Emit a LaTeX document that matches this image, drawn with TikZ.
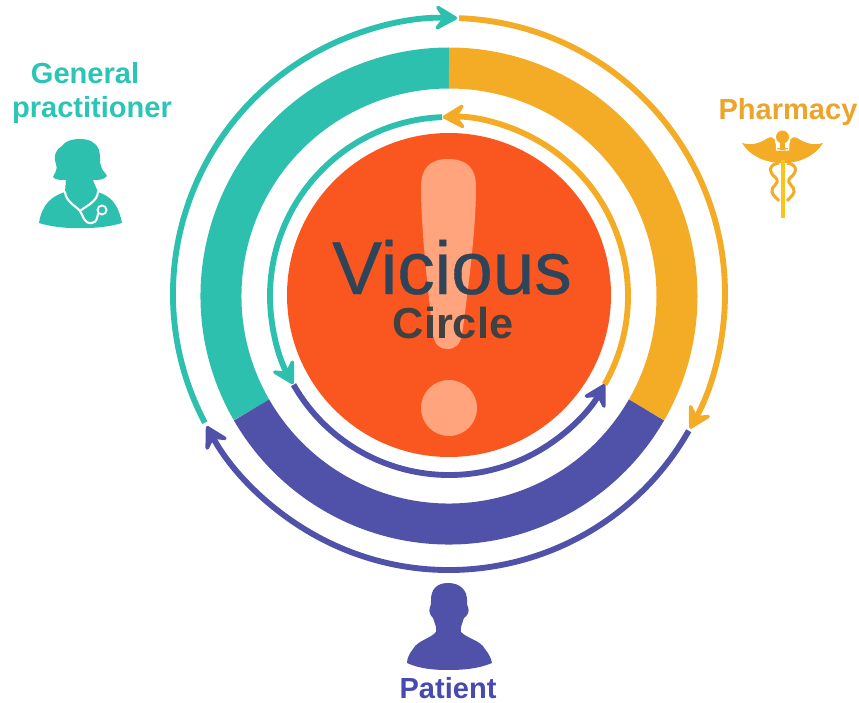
\documentclass[tikz,border=0pt]{standalone}
\usepackage{fontspec}
\setmainfont{Liberation Sans}
\newfontface\viciousface[FakeBold=0.5]{Liberation Sans}
\usetikzlibrary{arrows.meta,calc}
\definecolor{tealc}{HTML}{2EC0AE}
\definecolor{orangec}{HTML}{F4AC26}
\definecolor{purplec}{HTML}{4F52A8}
\definecolor{redc}{HTML}{FA5720}
\definecolor{peachc}{HTML}{FFA47C}
\definecolor{slatec}{HTML}{2D4459}
\definecolor{darkc}{HTML}{414141}
\begin{document}
\begin{tikzpicture}[x=0.03cm,y=-0.03cm,
    ringpart/.style={line width=1.23cm},
    loopline/.style={line width=5pt,-{Stealth[length=23pt,width=26pt,inset=9pt,round,line width=3pt]}},
    role/.style={anchor=base,font=\fontsize{24.8}{28}\selectfont\bfseries}]
    \useasboundingbox (0,0) rectangle (859,703);
    \coordinate (ringc) at (449,296);
    \coordinate (outerc) at (449,294);

    % middle ring
    \draw[ringpart,tealc] (ringc) ++(150:228) arc[start angle=150,end angle=270,radius=228];
    \draw[ringpart,orangec] (ringc) ++(270:228) arc[start angle=270,end angle=390,radius=228];
    \draw[ringpart,purplec] (ringc) ++(30:228) arc[start angle=30,end angle=150,radius=228];

    % disc and exclamation mark
    \fill[redc] (449,295) circle[radius=162];
    \fill[peachc] (421,187) .. controls (421,168) and (430,159) .. (448,159)
        .. controls (467,159) and (476,168) .. (476,187)
        .. controls (476,230) and (468,290) .. (462,335)
        .. controls (460,345) and (455,349) .. (447,349)
        .. controls (440,349) and (435,345) .. (433,335)
        .. controls (428,290) and (421,230) .. (421,187) -- cycle;
    \fill[peachc] (449,408) circle[radius=28];
    \node[anchor=base,text=slatec,font=\fontsize{63.8}{70}\viciousface] (vicious) at (452,294) {Vicious};
    \node[anchor=base,text=darkc,font=\fontsize{37}{40}\selectfont\bfseries] (circletext) at (453,338) {Circle};

    % outer arrows
    \coordinate (outerteal) at ($(outerc)+(152.2:276)$);
    \coordinate (outerorange) at ($(outerc)+(272.1:276)$);
    \coordinate (outerpurple) at ($(outerc)+(29.7:276)$);
    \draw[loopline,tealc] (outerteal) arc[start angle=152.2,end angle=271.7,radius=276];
    \draw[loopline,orangec] (outerorange) arc[start angle=272.1,end angle=389.2,radius=276];
    \draw[loopline,purplec] (outerpurple) arc[start angle=29.7,end angle=151.4,radius=276];

    % inner arrows
    \coordinate (innerteal) at ($(ringc)+(267.8:179)$);
    \coordinate (innerpurple) at ($(ringc)+(150.3:179)$);
    \coordinate (innerorange) at ($(ringc)+(29.6:179)$);
    \draw[loopline,tealc] (innerteal) arc[start angle=267.8,end angle=150.5,radius=179];
    \draw[loopline,purplec] (innerpurple) arc[start angle=150.3,end angle=29.5,radius=179];
    \draw[loopline,orangec] (innerorange) arc[start angle=29.6,end angle=-92,radius=179];

    % labels
    \node[role,text=tealc!92!cyan] (general) at (85,84) {General};
    \node[role,text=tealc!92!cyan] (practitioner) at (92,118) {practitioner};
    \node[role,text=orangec!85!brown] (pharmacy) at (788,120) {Pharmacy};
    \node[role,text=purplec!90!blue] (patient) at (448,698) {Patient};

    % general practitioner icon
    \fill[tealc] (79,184) .. controls (72,184) and (70,181) .. (66,180)
        .. controls (60,180) and (55,180) .. (53,177)
        .. controls (55,172) and (58,170) .. (56,164)
        .. controls (53,156) and (56,149) .. (62,146)
        .. controls (65,141) and (72,139) .. (80,139)
        .. controls (89,139) and (96,142) .. (99,150)
        .. controls (101,156) and (99,162) .. (101,166)
        .. controls (102,171) and (106,173) .. (107,176)
        .. controls (104,180) and (98,180) .. (94,180)
        .. controls (90,181) and (86,184) .. (79,184) -- cycle;
    \fill[tealc] (66,178) -- (92,178) -- (98,192) .. controls (110,196) and (118,203) .. (122,223)
        .. controls (100,230) and (60,230) .. (39,223)
        .. controls (42,204) and (52,196) .. (65,192) -- cycle;
    \draw[white,line width=1.8pt,line cap=round] (65,192) .. controls (66,202) and (76,206) .. (80,211)
        .. controls (84,217) and (84,224) .. (92,223)
        .. controls (97,222) and (97,218) .. (98,214);
    \draw[white,line width=1.8pt,line cap=round] (98,192) .. controls (97,202) and (86,206) .. (80,211);
    \draw[white,line width=1.6pt] (102,210) circle[radius=4.5];

    % pharmacy icon
    \fill[orangec] (742,143) .. controls (752,146) and (760,143) .. (768,138)
        .. controls (774,135) and (777,142) .. (777,148) -- (788,148)
        .. controls (788,142) and (791,135) .. (797,138)
        .. controls (805,143) and (813,146) .. (823,143)
        .. controls (815,156) and (800,163) .. (783,163)
        .. controls (765,163) and (750,156) .. (742,143) -- cycle;
    \draw[white,line width=1.2pt] (776.5,150) -- (776.5,144) arc[start angle=150,end angle=390,radius=7] -- (788.5,150) -- cycle;
    \fill[orangec] (782.5,137) circle[radius=6.5];
    \fill[orangec] (780,142) rectangle (785,150);
    \draw[orangec!70!yellow,line width=2.6pt] (783,160) -- (783,218);
    \draw[orangec,line width=2.6pt] (779,163) .. controls (770,164) and (767,171) .. (776,178)
        .. controls (781,184) and (770,186) .. (772,192) .. controls (773,196) and (777,198) .. (779,201);
    \draw[orangec,line width=2.6pt] (787,163) .. controls (796,164) and (799,171) .. (790,178)
        .. controls (785,184) and (796,186) .. (794,192) .. controls (793,196) and (789,198) .. (787,201);

    % patient icon
    \fill[purplec] (448,583) .. controls (436,583) and (431,590) .. (431,600)
        .. controls (431,604) and (431,606) .. (430,607)
        .. controls (428,612) and (431,616) .. (433,618)
        .. controls (435,624) and (437,628) .. (436,632)
        .. controls (430,639) and (418,640) .. (413,649)
        .. controls (409,654) and (407,659) .. (407,663)
        .. controls (420,669) and (435,670) .. (448,670)
        .. controls (462,670) and (478,669) .. (492,663)
        .. controls (491,658) and (489,654) .. (485,649)
        .. controls (480,640) and (468,639) .. (461,632)
        .. controls (460,628) and (462,624) .. (464,618)
        .. controls (467,616) and (470,612) .. (468,607)
        .. controls (467,606) and (467,604) .. (467,600)
        .. controls (467,590) and (460,583) .. (448,583) -- cycle;
\end{tikzpicture}
\end{document}
